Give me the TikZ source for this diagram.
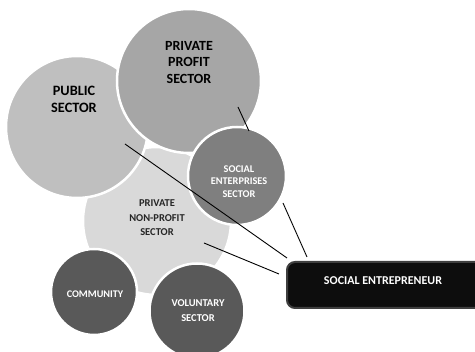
\documentclass[tikz,border=0pt]{standalone}
\usepackage{fontspec}
\setmainfont{Carlito}
\definecolor{pubc}{HTML}{BFBFBF}
\definecolor{profc}{HTML}{A6A6A6}
\definecolor{sec}{HTML}{7F7F7F}
\definecolor{npc}{HTML}{D9D9D9}
\definecolor{darkc}{HTML}{595959}
\definecolor{boxc}{HTML}{0D0D0D}
\definecolor{boxb}{HTML}{3F3F3F}
\definecolor{txtd}{HTML}{262626}
\begin{document}
\begin{tikzpicture}[x=1pt,y=-1pt,
  bubble/.style={circle,draw=white,line width=2.5pt,inner sep=0pt},
  lbl/.style={align=center},
  link/.style={line width=0.9pt,black}]
\useasboundingbox (0,0) rectangle (475,352);
\node[bubble,fill=npc,minimum size=148pt] (np) at (157,221) {};
\node[bubble,fill=pubc,minimum size=142pt] (pub) at (77,127) {};
\node[bubble,fill=profc,minimum size=144pt] (prof) at (189,81) {};
\node[bubble,fill=darkc,minimum size=86pt] (com) at (94,292) {};
\node[bubble,fill=darkc,minimum size=95pt] (vol) at (197,311) {};
\node[bubble,fill=sec,minimum size=98pt] (soc) at (237,176) {};
\node[draw=boxb,fill=boxc,line width=2pt,rounded corners=8pt,minimum width=200pt,minimum height=46pt,anchor=north west] (se) at (286,261) {};
\node[lbl,font=\bfseries\fontsize{14.3}{17.5}\selectfont,text=black] (publ) at (74,99.5) {PUBLIC\\SECTOR};
\node[lbl,font=\bfseries\fontsize{14}{16.5}\selectfont,text=black] (profl) at (189,62.5) {PRIVATE\\PROFIT\\SECTOR};
\node[lbl,font=\bfseries\fontsize{10.5}{14.5}\selectfont,text=txtd] (npl) at (157,218) {PRIVATE\\NON-PROFIT\\SECTOR};
\node[lbl,font=\bfseries\fontsize{10.2}{12}\selectfont,text=white] (coml) at (95,294) {COMMUNITY};
\node[lbl,font=\bfseries\fontsize{10.5}{15}\selectfont,text=white] (voll) at (198,310.5) {VOLUNTARY\\SECTOR};
\node[lbl,font=\bfseries\fontsize{10.3}{12.5}\selectfont,text=white] (socl) at (239,181.5) {SOCIAL\\ENTERPRISES\\SECTOR};
\node[lbl,font=\bfseries\fontsize{12}{14}\selectfont,text=white] (sel) at (383,281) {SOCIAL ENTREPRENEUR};
\coordinate (pa) at (238,107);
\coordinate (sa) at (249,131);
\coordinate (pb) at (125,144);
\coordinate (ea) at (287,258);
\coordinate (sb) at (283,203);
\coordinate (eb) at (307,257);
\coordinate (na) at (204,243);
\coordinate (ec) at (279,274);
\draw[link] (pa) -- (sa);
\draw[link] (pb) -- (ea);
\draw[link] (sb) -- (eb);
\draw[link] (na) -- (ec);
\end{tikzpicture}
\end{document}
